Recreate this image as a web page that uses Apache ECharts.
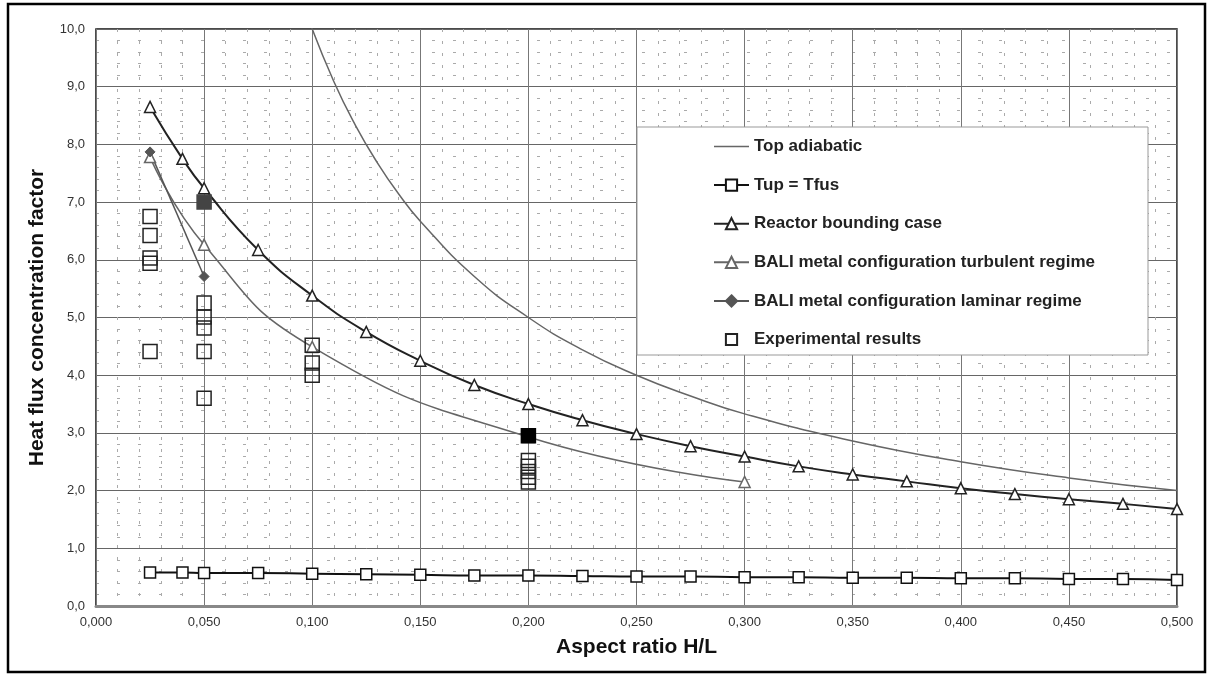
<!DOCTYPE html>
<html>
<head>
<meta charset="utf-8">
<script src="https://cdn.jsdelivr.net/npm/echarts@6/dist/echarts.min.js"></script>
<style>
html,body{margin:0;padding:0;background:#fff;}
#chart{width:1214px;height:678px;}
</style>
</head>
<body>
<div id="chart"></div>
<script>
// ---- data ----
const seriesNames = [
  'Top adiabatic',
  'Tup = Tfus',
  'Reactor bounding case',
  'BALI metal configuration turbulent regime',
  'BALI metal configuration laminar regime',
  'Experimental results'
];
const topAdiabaticX = [0.099, 0.11, 0.12, 0.13, 0.14, 0.15, 0.175, 0.2, 0.225, 0.25, 0.275, 0.3, 0.35, 0.4, 0.45, 0.5];
const topAdiabaticY = [10.1, 9.09, 8.33, 7.69, 7.14, 6.67, 5.71, 5.0, 4.44, 4.0, 3.64, 3.33, 2.86, 2.5, 2.22, 2.0];

const tupX = [0.025, 0.04, 0.05, 0.075, 0.1, 0.125, 0.15, 0.175, 0.2, 0.225, 0.25, 0.275, 0.3, 0.325, 0.35, 0.375, 0.4, 0.425, 0.45, 0.475, 0.5];
const tupY = [0.58, 0.58, 0.57, 0.57, 0.56, 0.55, 0.54, 0.53, 0.53, 0.52, 0.51, 0.51, 0.50, 0.50, 0.49, 0.49, 0.48, 0.48, 0.47, 0.47, 0.45];

const reactorX = [0.025, 0.04, 0.05, 0.075, 0.1, 0.125, 0.15, 0.175, 0.2, 0.225, 0.25, 0.275, 0.3, 0.325, 0.35, 0.375, 0.4, 0.425, 0.45, 0.475, 0.5];
const reactorY = [8.65, 7.75, 7.24, 6.17, 5.38, 4.75, 4.25, 3.83, 3.5, 3.22, 2.98, 2.77, 2.59, 2.42, 2.28, 2.16, 2.04, 1.94, 1.85, 1.77, 1.68];

const baliTurbX = [0.025, 0.05, 0.1, 0.2, 0.3];
const baliTurbY = [7.78, 6.26, 4.49, 2.93, 2.15];

const baliLamX = [0.025, 0.05];
const baliLamY = [7.87, 5.71];

const expX = [0.025, 0.025, 0.025, 0.025, 0.025, 0.05, 0.05, 0.05, 0.05, 0.05, 0.1, 0.1, 0.1, 0.2, 0.2, 0.2, 0.2, 0.2];
const expY = [6.75, 6.42, 6.03, 5.94, 4.41, 5.25, 5.01, 4.82, 4.41, 3.6, 4.52, 4.21, 4.0, 2.52, 2.42, 2.33, 2.23, 2.15];
// filled experimental points
const expFilledX = [0.05, 0.2];
const expFilledY = [7.0, 2.95];
const expFilledColor = ['#444444', '#000000'];

const xTickInterval = 0.05;
const yTickInterval = 1;

// ---- build ----
const zip = (xs, ys) => xs.map((x, i) => [x, ys[i]]);
const font = '"Liberation Sans", Arial, sans-serif';

const expData = zip(expX, expY);
expFilledX.forEach((x, i) => expData.push({value: [x, expFilledY[i]], itemStyle: {color: expFilledColor[i], borderColor: expFilledColor[i]}}));

const legendData = seriesNames.map((n, i) => i === 0 ? {name: n, icon: 'path://M0,0H36V1.5H0Z'} : {name: n});

const chart = echarts.init(document.getElementById('chart'), null, {renderer: 'canvas'});
chart.setOption({
  animation: false,
  backgroundColor: '#fff',
  textStyle: {fontFamily: font},
  grid: {left: 96, right: 37, top: 29, bottom: 72, show: true, borderColor: '#111', borderWidth: 1.5},
  graphic: [
    {type: 'rect', z: 0, silent: true, shape: {x: 8, y: 4, width: 1197, height: 668}, style: {fill: 'none', stroke: '#000', lineWidth: 2.5}},
    {type: 'rect', z: 3, silent: true, shape: {x: 637, y: 127, width: 511, height: 228}, style: {fill: '#fff', stroke: '#999', lineWidth: 1}}
  ],
  legend: {
    z: 5,
    orient: 'vertical',
    left: 713,
    top: 138,
    padding: 0,
    itemWidth: 35,
    itemHeight: 14,
    itemGap: 21.6,
    data: legendData,
    textStyle: {fontFamily: font, fontSize: 17, fontWeight: 'bold', color: '#222'}
  },
  xAxis: {
    type: 'value',
    min: 0, max: 0.5, interval: xTickInterval,
    name: 'Aspect ratio H/L',
    nameLocation: 'middle',
    nameGap: 31,
    nameTextStyle: {fontFamily: font, fontSize: 21, fontWeight: 'bold', color: '#111'},
    axisLine: {show: true, onZero: false, lineStyle: {color: '#888', width: 3}},
    axisTick: {show: false},
    axisLabel: {fontFamily: font, fontSize: 13, color: '#333', margin: 10,
      formatter: v => v.toFixed(3).replace('.', ',')},
    splitLine: {show: true, lineStyle: {color: '#777', width: 1}},
    minorTick: {show: false, splitNumber: 5},
    minorSplitLine: {show: true, lineStyle: {color: '#aaa', width: 1, type: [3, 9]}}
  },
  yAxis: {
    type: 'value',
    min: 0, max: 10, interval: yTickInterval,
    name: 'Heat flux concentration factor',
    nameLocation: 'middle',
    nameGap: 48,
    nameTextStyle: {fontFamily: font, fontSize: 21, fontWeight: 'bold', color: '#111'},
    axisLine: {show: true, lineStyle: {color: '#777', width: 1}},
    axisTick: {show: false},
    axisLabel: {fontFamily: font, fontSize: 13, color: '#333', margin: 11,
      formatter: v => v.toFixed(1).replace('.', ',')},
    splitLine: {show: true, lineStyle: {color: '#666', width: 1}},
    minorTick: {show: false, splitNumber: 5},
    minorSplitLine: {show: true, lineStyle: {color: '#aaa', width: 1, type: [3, 18]}}
  },
  series: [
    {name: seriesNames[0], type: 'line', smooth: true, symbol: 'none', z: 2,
      lineStyle: {color: '#666', width: 1.5}, itemStyle: {color: '#666'},
      data: zip(topAdiabaticX, topAdiabaticY)},
    {name: seriesNames[1], type: 'line', smooth: true, symbol: 'rect', symbolSize: 11, z: 2,
      lineStyle: {color: '#111', width: 2}, itemStyle: {color: '#fff', borderColor: '#111', borderWidth: 1.5},
      data: zip(tupX, tupY)},
    {name: seriesNames[2], type: 'line', smooth: true, symbol: 'triangle', symbolSize: 11, z: 2,
      lineStyle: {color: '#222', width: 2}, itemStyle: {color: '#fff', borderColor: '#222', borderWidth: 1.5},
      data: zip(reactorX, reactorY)},
    {name: seriesNames[3], type: 'line', smooth: true, symbol: 'triangle', symbolSize: 11, z: 2,
      lineStyle: {color: '#666', width: 1.5}, itemStyle: {color: '#fff', borderColor: '#666', borderWidth: 1.5},
      data: zip(baliTurbX, baliTurbY)},
    {name: seriesNames[4], type: 'line', smooth: true, symbol: 'diamond', symbolSize: 10, z: 2,
      lineStyle: {color: '#555', width: 1.5}, itemStyle: {color: '#555', borderColor: '#555', borderWidth: 1},
      data: zip(baliLamX, baliLamY)},
    {name: seriesNames[5], type: 'line', symbol: 'rect', symbolSize: 14, z: 3,
      lineStyle: {opacity: 0, width: 0},
      itemStyle: {color: 'rgba(255,255,255,0)', borderColor: '#222', borderWidth: 1.5},
      data: expData}
  ]
});
</script>
</body>
</html>
